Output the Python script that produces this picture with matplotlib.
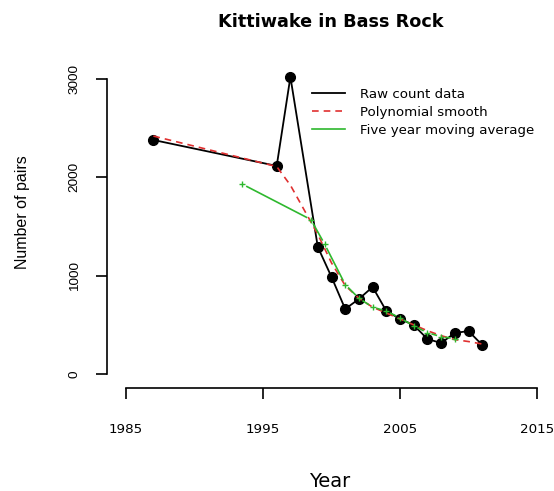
import matplotlib
matplotlib.use("Agg")
import matplotlib.pyplot as plt
from matplotlib.lines import Line2D
import numpy as np

# ---- data ----
years = [1987, 1996, 1997, 1999, 2000, 2001, 2002, 2003, 2004, 2005,
         2006, 2007, 2008, 2009, 2010, 2011]
pairs = [2380, 2116, 3021, 1292, 987, 661, 763, 885, 641, 560,
         498, 356, 315, 417, 437, 295]

smooth_years = years
smooth_vals = [2420, 2110, 1920, 1420, 1130, 900, 770, 680, 620, 560,
               500, 440, 390, 350, 330, 305]

ma_years = [1993.5, 1998.5, 1999.5, 2001, 2002, 2003, 2004, 2005, 2006,
            2007, 2008, 2009]
ma_vals = [1930, 1570, 1320, 910, 770, 680, 640, 570, 490, 420, 380, 360]

x_ticks = [1985, 1995, 2005, 2015]
y_ticks = [0, 1000, 2000, 3000]

title = "Kittiwake in Bass Rock"
xlabel = "Year"
ylabel = "Number of pairs"
legend_labels = ["Raw count data", "Polynomial smooth", "Five year moving average"]

# ---- styling ----
W, H = 554, 491
RED = "#e03030"
GREEN = "#2eb82e"

fig = plt.figure(figsize=(W / 100, H / 100), dpi=100)
fig.patch.set_facecolor("white")

left_px, right_px, bottom_px, top_px = 107, 554, 388, 60
ax = fig.add_axes([left_px / W, 1 - bottom_px / H,
                   (right_px - left_px) / W, (bottom_px - top_px) / H])

# scales: 1985 -> px 126, 13.7 px / year ; 0 -> px 374, 0.09833 px / unit
xpx = 13.7
x0 = 1985 - (126 - left_px) / xpx
x1 = x0 + (right_px - left_px) / xpx
ypx = 0.09833
y0 = -(bottom_px - 374) / ypx
y1 = (374 - top_px) / ypx
ax.set_xlim(x0, x1)
ax.set_ylim(y0, y1)

ax.plot(years, pairs, color="black", lw=1.3, zorder=2)
ax.plot(years, pairs, "o", color="black", ms=7, zorder=3)
ax.plot(smooth_years, smooth_vals, color=RED, lw=1.2,
        linestyle=(0, (4, 3)), zorder=4)

# moving average drawn R "type='b'" style: markers with gaps in the line
ax.plot(ma_years, ma_vals, linestyle="none", color=GREEN, marker="+",
        ms=5, mew=1.0, zorder=5)
pts = ax.transData.transform(np.column_stack([ma_years, ma_vals]))
gap = 5.0
inv = ax.transData.inverted()
for p, q in zip(pts[:-1], pts[1:]):
    d = q - p
    L = np.hypot(*d)
    if L <= 2 * gap:
        continue
    u = d / L
    a = inv.transform(p + u * gap)
    b = inv.transform(q - u * gap)
    ax.plot([a[0], b[0]], [a[1], b[1]], color=GREEN, lw=1.2, zorder=5)

for s in ["top", "right"]:
    ax.spines[s].set_visible(False)
ax.spines["left"].set_bounds(0, 3000)
ax.spines["bottom"].set_bounds(1985, 2015)
for s in ["left", "bottom"]:
    ax.spines[s].set_linewidth(1.2)

ax.set_xticks(x_ticks)
ax.set_yticks(y_ticks)
ax.set_xticklabels([str(t) for t in x_ticks], fontsize=9.7,
                   family="DejaVu Sans")
ax.set_yticklabels([str(t) for t in y_ticks], fontsize=9.7,
                   family="Liberation Sans", rotation=90, va="center")
ax.tick_params(axis="x", length=8, width=1.2, pad=17)
ax.tick_params(axis="y", length=8, width=1.2, pad=11)

fig.text(331 / W, 1 - 27 / H, title, ha="center", va="baseline",
         fontsize=12.7, fontweight="bold", family="DejaVu Sans")
fig.text(330 / W, 1 - 487 / H, xlabel, ha="center", va="baseline",
         fontsize=14, family="DejaVu Sans")
fig.text(23 / W, 1 - 212 / H, ylabel, ha="center", va="center",
         rotation=90, fontsize=11.5, family="Liberation Sans")

handles = [Line2D([], [], color="black", lw=1.3),
           Line2D([], [], color=RED, lw=1.2, linestyle=(0, (4, 3))),
           Line2D([], [], color=GREEN, lw=1.2)]
fig.legend(handles, legend_labels, loc="upper left",
           bbox_to_anchor=(312 / W, 1 - 88 / H),
           bbox_transform=fig.transFigure, frameon=False,
           prop={"family": "DejaVu Sans", "size": 9.6},
           handlelength=2.5, handletextpad=1.1, labelspacing=0.37,
           borderpad=0, borderaxespad=0)

fig.savefig("out.png", dpi=100)
